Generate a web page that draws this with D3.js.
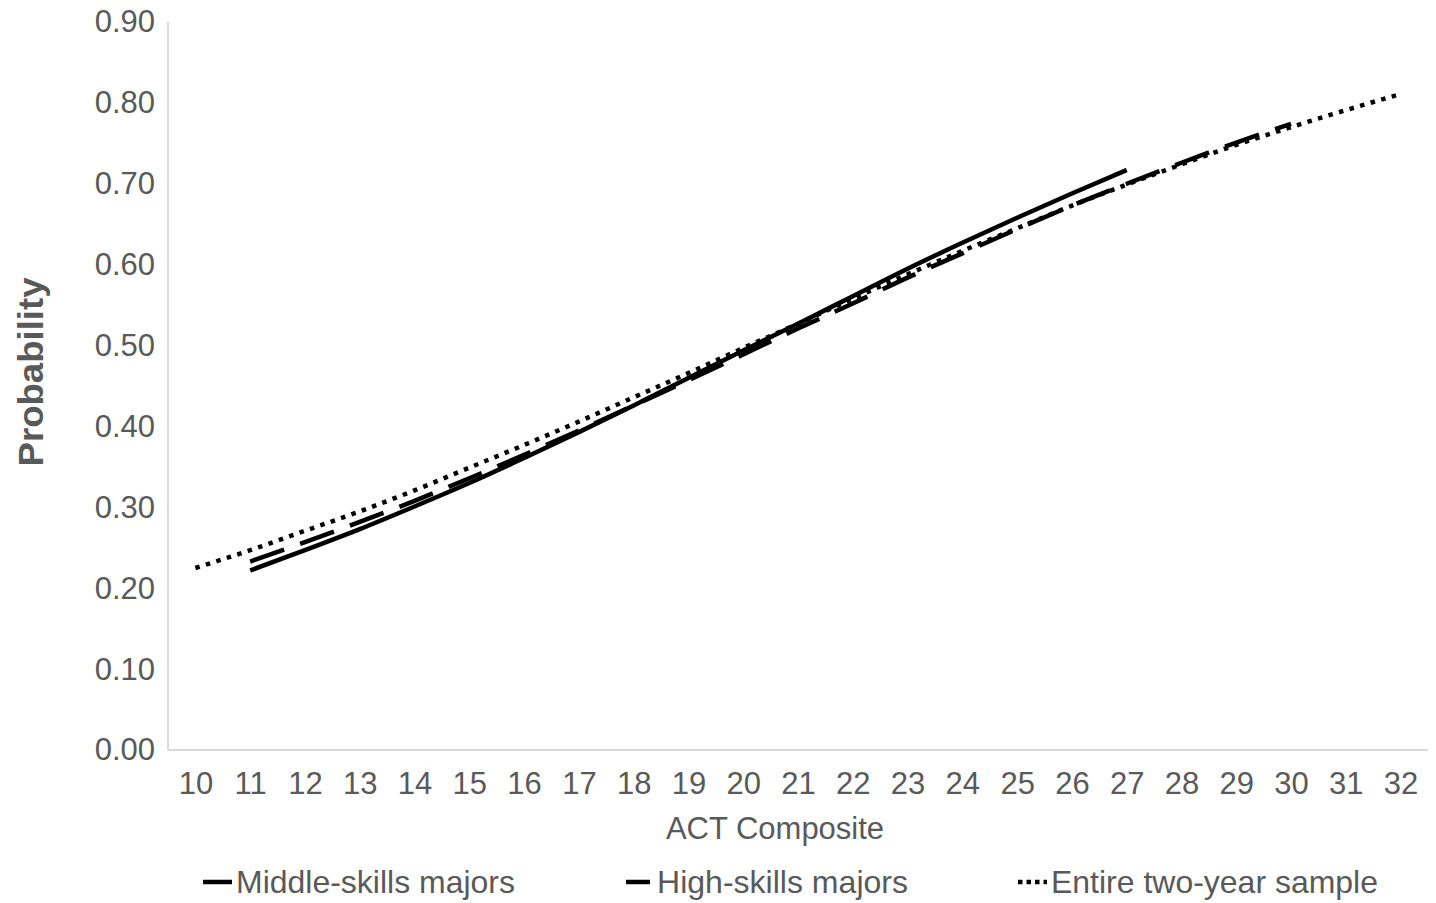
<!DOCTYPE html>
<html>
<head>
<meta charset="utf-8">
<script src="https://cdn.jsdelivr.net/npm/d3@7"></script>
<style>
  html, body { margin: 0; padding: 0; background: #fff; }
  svg { display: block; }
  text { font-family: "Liberation Sans", Arial, sans-serif; fill: #595959; }
</style>
</head>
<body>
<svg id="chart" width="1436" height="903"></svg>
<script>
// ACT composite scores on the category axis
const actScores = d3.range(10, 33);

// Predicted probability by ACT composite, per group
const middleSkillsScores = d3.range(11, 28);
const middleSkills = [0.222, 0.247, 0.273, 0.301, 0.330, 0.361, 0.393, 0.426, 0.460,
  0.494, 0.527, 0.561, 0.595, 0.627, 0.658, 0.688, 0.717];

const highSkillsScores = d3.range(11, 31);
const highSkills = [0.233, 0.257, 0.282, 0.308, 0.336, 0.365, 0.395, 0.426, 0.457,
  0.489, 0.521, 0.552, 0.584, 0.614, 0.644, 0.673, 0.700, 0.726, 0.751, 0.774];

const entireScores = d3.range(10, 33);
const entireSample = [0.225, 0.247, 0.271, 0.295, 0.321, 0.349, 0.377, 0.406, 0.436,
  0.466, 0.497, 0.527, 0.558, 0.588, 0.617, 0.645, 0.673, 0.699, 0.724, 0.748,
  0.770, 0.791, 0.811];

const yTicks = [0, 0.1, 0.2, 0.3, 0.4, 0.5, 0.6, 0.7, 0.8, 0.9];

const seriesNames = ["Middle-skills majors", "High-skills majors", "Entire two-year sample"];

const svg = d3.select("#chart");
const plot = { left: 168, right: 1428, top: 22, bottom: 750 };

const x = d3.scalePoint()
  .domain(actScores)
  .range([plot.left, plot.right])
  .padding(0.5);

const y = d3.scaleLinear()
  .domain([0, 0.9])
  .range([plot.bottom, plot.top]);

// Axes
const xAxis = svg.append("g")
  .attr("transform", `translate(0,${plot.bottom})`)
  .call(d3.axisBottom(x).tickSize(0).tickPadding(22));
xAxis.select(".domain").attr("stroke", "#d9d9d9").attr("stroke-width", 2)
  .attr("d", `M${plot.left},0H${plot.right}`);
xAxis.selectAll("text")
  .attr("font-size", 31).attr("fill", "#595959")
  .attr("font-family", "Liberation Sans, Arial, sans-serif");

const yAxis = svg.append("g")
  .attr("transform", `translate(${plot.left},0)`)
  .call(d3.axisLeft(y).tickValues(yTicks).tickFormat(d3.format(".2f")).tickSize(0).tickPadding(13));
yAxis.select(".domain").attr("stroke", "#d9d9d9").attr("stroke-width", 2)
  .attr("d", `M0,${plot.top}V${plot.bottom}`);
yAxis.selectAll("text")
  .attr("font-size", 31).attr("fill", "#595959")
  .attr("font-family", "Liberation Sans, Arial, sans-serif");

// Axis titles
svg.append("text")
  .attr("x", 775).attr("y", 839)
  .attr("text-anchor", "middle")
  .attr("font-size", 31)
  .text("ACT Composite");

svg.append("text")
  .attr("transform", "translate(43,372) rotate(-90)")
  .attr("text-anchor", "middle")
  .attr("font-size", 35)
  .attr("font-weight", "bold")
  .attr("textLength", 189)
  .attr("lengthAdjust", "spacingAndGlyphs")
  .text("Probability");

// Lines
const line = d3.line()
  .x(d => x(d[0]))
  .y(d => y(d[1]))
  .curve(d3.curveMonotoneX);

const styles = [
  { dash: null, cap: "butt" },
  { dash: "36,17", cap: "butt" },
  { dash: "4.5,6.5", cap: "butt" }
];

const series = [
  d3.zip(middleSkillsScores, middleSkills),
  d3.zip(highSkillsScores, highSkills),
  d3.zip(entireScores, entireSample)
];

series.forEach((pts, i) => {
  svg.append("path")
    .datum(pts)
    .attr("fill", "none")
    .attr("stroke", "#000")
    .attr("stroke-width", 4.5)
    .attr("stroke-linecap", styles[i].cap)
    .attr("stroke-dasharray", styles[i].dash)
    .attr("d", line);
});

// Legend
const legendItems = [
  { x: 203, w: 29, textX: 236, textW: 279 },
  { x: 626, w: 24, textX: 657, textW: 251 },
  { x: 1018, w: 29, textX: 1051, textW: 327 }
];
const legendDash = [null, null, "4.5,4"];
legendItems.forEach((it, i) => {
  svg.append("line")
    .attr("x1", it.x).attr("x2", it.x + it.w)
    .attr("y1", 882).attr("y2", 882)
    .attr("stroke", "#000")
    .attr("stroke-width", 4.5)
    .attr("stroke-dasharray", legendDash[i]);
  svg.append("text")
    .attr("x", it.textX).attr("y", 893)
    .attr("font-size", 32)
    .attr("textLength", it.textW)
    .attr("lengthAdjust", "spacingAndGlyphs")
    .text(seriesNames[i]);
});
</script>
</body>
</html>
